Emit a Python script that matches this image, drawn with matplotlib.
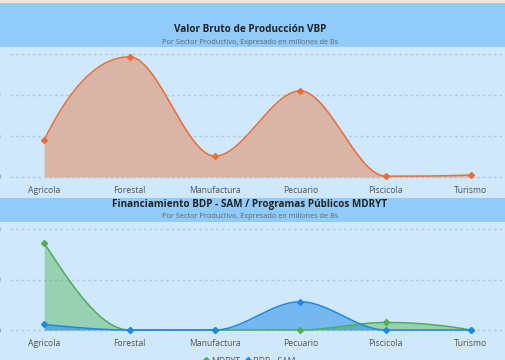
import numpy as np
import matplotlib.pyplot as plt
from matplotlib.patches import Rectangle
from matplotlib.lines import Line2D

plt.rcParams['font.family'] = ['Open Sans', 'DejaVu Sans']

# data
sectores = ['Agricola', 'Forestal', 'Manufactura', 'Pecuario', 'Piscicola', 'Turismo']
vbp = [900, 2930, 510, 2100, 20, 50]
mdryt = [172, 0, 0, 0, 15, 0]
bdp_sam = [11, 0, 0, 56, 0, 0]
ticks_vbp = [0, 1000, 2000, 3000]
ticks_fin = [0, 100, 200]

W, H = 506, 360
BG = '#cfe8fc'
BAND = '#90cbf9'


def monotone(x, y, n=60):
    # monotone cubic (Fritsch-Carlson) for smooth area lines
    x = np.asarray(x, float)
    y = np.asarray(y, float)
    h = np.diff(x)
    d = np.diff(y) / h
    m = np.zeros_like(y)
    for k in range(1, len(y) - 1):
        if d[k - 1] * d[k] > 0:
            w1 = 2 * h[k] + h[k - 1]
            w2 = h[k] + 2 * h[k - 1]
            m[k] = (w1 + w2) / (w1 / d[k - 1] + w2 / d[k])
    for i, (a, hh) in enumerate([(0, h), (-1, h[::-1])]):
        dd = d if i == 0 else -d[::-1]
        s = ((2 * hh[0] + hh[1]) * dd[0] - hh[0] * dd[1]) / (hh[0] + hh[1])
        if np.sign(s) != np.sign(dd[0]):
            s = 0
        elif np.sign(dd[0]) != np.sign(dd[1]) and abs(s) > abs(3 * dd[0]):
            s = 3 * dd[0]
        m[a] = s if i == 0 else -s
    xs, ys = [], []
    for k in range(len(x) - 1):
        t = np.linspace(0, 1, n)
        h00 = 2 * t**3 - 3 * t**2 + 1
        h10 = t**3 - 2 * t**2 + t
        h01 = -2 * t**3 + 3 * t**2
        h11 = t**3 - t**2
        xs.append(x[k] + t * h[k])
        ys.append(h00 * y[k] + h10 * h[k] * m[k] + h01 * y[k + 1] + h11 * h[k] * m[k + 1])
    return np.concatenate(xs), np.concatenate(ys)


def px_axes(x0, y_top, x1, y_bot):
    return fig.add_axes([x0 / W, 1 - y_bot / H, (x1 - x0) / W, (y_bot - y_top) / H])


fig = plt.figure(figsize=(W / 100, H / 100), dpi=100)
fig.patch.set_facecolor(BG)

# header bands
fig.patches.append(Rectangle((0, 1 - 3 / H), 1, 3 / H, transform=fig.transFigure,
                             facecolor='#fde4cf', edgecolor='none'))
fig.patches.append(Rectangle((0, 1 - 47 / H), 1, 44 / H, transform=fig.transFigure,
                             facecolor=BAND, edgecolor='none'))
fig.patches.append(Rectangle((0, 1 - 222 / H), 1, 24 / H, transform=fig.transFigure,
                             facecolor=BAND, edgecolor='none'))

fig.text(0.494, 1 - 29 / H, 'Valor Bruto de Producción VBP', ha='center', va='center',
         fontsize=7.2, fontweight='bold', color='#222222')
fig.text(0.494, 1 - 42 / H, 'Por Sector Productivo, Expresado en millones de Bs', ha='center',
         va='center', fontsize=5.3, color='#666666')
fig.text(0.494, 1 - 205 / H, 'Financiamiento BDP - SAM / Programas Públicos MDRYT', ha='center',
         va='center', fontsize=7.1, fontweight='bold', color='#222222')
fig.text(0.494, 1 - 217 / H, 'Por Sector Productivo, Expresado en millones de Bs', ha='center',
         va='center', fontsize=5.3, color='#666666')

x = np.arange(len(sectores))


def style(ax, ticks, unit, top_px, zero_px, y_top, y_bot):
    ax.set_facecolor('none')
    ax.set_xlim(-0.4, 5.41)
    ppu = (zero_px - top_px) / (ticks[-1] / unit)
    ax.set_ylim(-(y_bot - zero_px) / ppu * unit, ticks[-1] + (top_px - y_top) / ppu * unit)
    ax.set_yticks(ticks)
    ax.set_xticks(x)
    ax.set_xticklabels(sectores)
    for s in ax.spines.values():
        s.set_visible(False)
    ax.tick_params(length=0, labelsize=6.2, labelcolor='#555555')
    ax.tick_params(axis='y', pad=6.5)
    ax.tick_params(axis='x', pad=4)
    ax.grid(axis='y', color='#b9c9d6', linestyle=(0, (2, 2)), linewidth=1)
    ax.set_axisbelow(True)


# top chart
ax1 = px_axes(10, 50, 506, 180)
style(ax1, ticks_vbp, 1000, 54, 177, 50, 180)
xs, ys = monotone(x, vbp)
ax1.fill_between(xs, 0, ys, color='#d9b5a8', linewidth=0)
ax1.plot(xs, ys, color='#ec6c34', linewidth=1.1)
ax1.plot(x, vbp, 'D', color='#ec6c34', markersize=3)

# bottom chart
ax2 = px_axes(10, 225, 506, 333)
style(ax2, ticks_fin, 100, 229, 330, 225, 333)
series = [(mdryt, '#4caf50', 0.42, 'MDRYT'), (bdp_sam, '#1e88e5', 0.5, 'BDP - SAM')]
handles = []
for vals, col, a, lab in series:
    xs, ys = monotone(x, vals)
    ax2.fill_between(xs, 0, ys, color=col, alpha=a, linewidth=0)
    ax2.plot(xs, ys, color=col, linewidth=1.1)
    ax2.plot(x, vals, 'D', color=col, markersize=3)
    handles.append(Line2D([], [], marker='D', color=col, linestyle='none', markersize=3, label=lab))

fig.legend(handles=handles, loc='center', bbox_to_anchor=(249 / W, 1 - 361 / H), ncol=2,
           frameon=False, fontsize=6.2, labelcolor='#555555', handletextpad=0.2,
           columnspacing=0.6, handlelength=0.8)

fig.savefig('out.png', dpi=100, facecolor=BG)
